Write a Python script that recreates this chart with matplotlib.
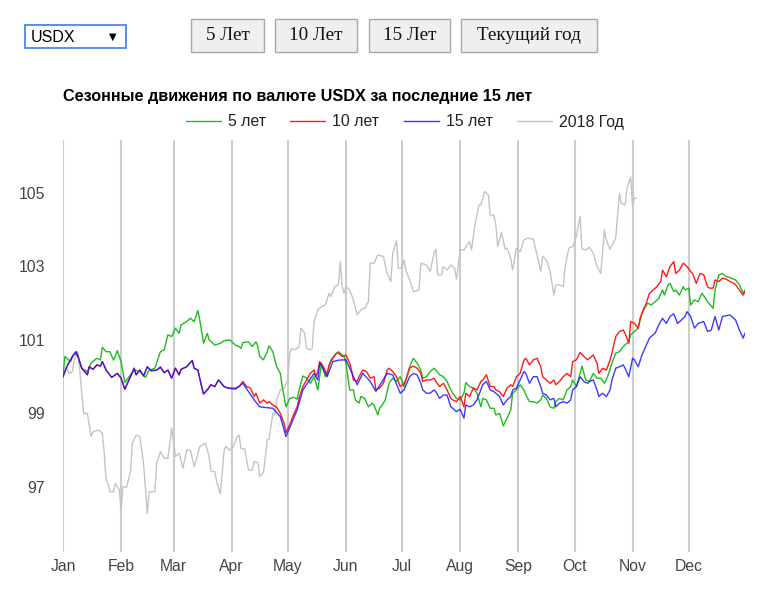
import numpy as np
import matplotlib
matplotlib.use("Agg")
import matplotlib.pyplot as plt
from matplotlib.patches import Rectangle

plt.rcParams['font.family'] = ['Liberation Sans', 'DejaVu Sans']

# month starts (day of year) and labels
month_days = [0, 31, 59, 90, 120, 151, 181, 212, 243, 273, 304, 334]
month_labels = ['Jan', 'Feb', 'Mar', 'Apr', 'May', 'Jun', 'Jul', 'Aug', 'Sep', 'Oct', 'Nov', 'Dec']
y_ticks = [97, 99, 101, 103, 105]

# 5 years average (green)
g_days = [0, 1, 4, 6, 8, 10, 13, 15, 18, 20, 21, 23, 25, 27, 29, 31, 33, 36, 38, 41, 44, 46, 49, 52, 54, 56, 58, 60, 62, 63,
          66, 68, 70, 72, 73, 75, 77, 78, 81, 84, 86, 89, 92, 94, 95, 96, 99, 101, 103, 104, 105, 107, 109, 110, 112, 114,
          116, 117, 119, 121, 123, 125, 126, 128, 130, 132, 134, 136, 138, 140, 142, 143, 145, 147, 150, 151, 153, 155,
          156, 158, 159, 161, 163, 165, 166, 168, 169, 171, 172, 174, 176, 178, 180, 182, 183, 185, 187, 189, 191, 192,
          194, 196, 198, 199, 201, 203, 205, 207, 208, 210, 212, 214, 215, 217, 219, 221, 223, 224, 226, 228, 230, 231,
          233, 235, 237, 239, 240, 242, 244, 246, 247, 249, 251, 253, 255, 256, 258, 260, 262, 263, 265, 267, 269, 271,
          272, 274, 276, 277, 279, 281, 283, 285, 287, 289, 291, 293, 295, 297, 299, 301, 302, 303, 305, 307, 309, 311,
          312, 314, 316, 318, 320, 321, 323, 324, 326, 327, 329, 331, 332, 334, 335, 337, 339, 341, 343, 344, 347, 348,
          350, 352, 354, 356, 359, 361, 363, 364]
g_vals = [100.0, 100.55, 100.41, 100.64, 100.55, 100.23, 100.14, 100.37, 100.5, 100.46, 100.8, 100.68, 100.68, 100.45,
          100.71, 100.41, 99.84, 100.05, 100.18, 100.14, 99.98, 100.18, 100.23, 100.68, 100.73, 101.14, 101.09, 101.32,
          101.18, 101.41, 101.5, 101.59, 101.5, 101.8, 101.54, 100.91, 101.18, 101.0, 100.86, 100.91, 100.98, 101.0,
          100.86, 100.82, 100.77, 100.93, 100.95, 100.82, 100.95, 100.82, 100.55, 100.46, 100.68, 100.84, 100.68, 100.27,
          100.09, 99.73, 99.18, 99.41, 99.44, 99.39, 99.64, 100.02, 99.96, 99.82, 100.0, 99.64, 100.37, 100.0, 100.27,
          100.46, 100.59, 100.68, 100.55, 100.37, 99.64, 99.64, 99.37, 99.28, 99.46, 99.41, 99.18, 99.28, 99.23, 98.96,
          99.14, 99.28, 99.37, 99.82, 99.96, 99.87, 100.0, 99.73, 99.91, 100.27, 100.5, 100.37, 100.18, 99.96, 100.0,
          100.14, 100.23, 100.18, 100.05, 100.0, 99.87, 99.64, 99.55, 99.41, 99.37, 99.55, 99.84, 99.73, 99.69, 99.55,
          99.18, 99.41, 99.37, 99.14, 99.14, 98.96, 99.0, 98.66, 98.87, 99.1, 99.55, 99.64, 99.78, 99.64, 99.5, 99.32,
          99.32, 99.28, 99.37, 99.5, 99.41, 99.18, 99.14, 99.32, 99.41, 99.37, 99.64, 99.73, 99.91, 99.73, 100.09,
          100.29, 99.91, 99.87, 100.09, 99.96, 99.96, 99.82, 100.05, 100.37, 100.64, 100.68, 100.82, 100.91, 100.95,
          101.14, 101.23, 101.32, 101.73, 101.91, 102.0, 101.95, 102.04, 102.13, 102.36, 102.22, 102.5, 102.54, 102.31,
          102.36, 102.22, 102.45, 102.36, 102.41, 101.95, 102.09, 102.04, 102.27, 102.13, 102.04, 101.86, 102.36, 102.77,
          102.81, 102.72, 102.7, 102.63, 102.5, 102.27, 102.36]

# 10 and 15 years run together until early April
common_days = [0, 2, 5, 7, 8, 10, 13, 14, 16, 18, 20, 21, 23, 26, 29, 31, 33, 36, 38, 39, 41, 43, 45, 47, 50, 52, 54, 56,
               58, 60, 62, 63, 66, 69, 70, 72, 74, 75, 77, 79, 81, 83, 86, 88]
common_vals = [100.0, 100.27, 100.55, 100.68, 100.55, 100.23, 100.05, 100.27, 100.2, 100.32, 100.29, 100.41, 100.18,
               99.98, 100.09, 99.96, 99.66, 100.0, 100.23, 100.05, 100.18, 100.02, 100.27, 100.16, 100.18, 100.26, 100.11,
               100.18, 99.96, 100.23, 100.05, 100.2, 100.27, 100.44, 100.23, 100.18, 99.73, 99.53, 99.64, 99.78, 99.73,
               99.91, 99.73, 99.69]

# 10 years average (red), after the common part
r_days = [92, 94, 96, 98, 100, 102, 103, 105, 107, 109, 110, 112, 114, 116, 118, 119, 121, 123, 125, 126, 128, 130, 132,
          134, 135, 136, 137, 139, 141, 142, 144, 146, 147, 149, 151, 153, 154, 155, 157, 158, 160, 162, 164, 166, 167,
          169, 171, 173, 174, 176, 178, 180, 182, 183, 185, 187, 189, 191, 192, 194, 196, 198, 199, 201, 203, 205, 207,
          208, 210, 212, 214, 215, 217, 219, 221, 223, 224, 226, 228, 230, 231, 233, 235, 237, 239, 240, 242, 244, 246,
          247, 249, 251, 253, 255, 256, 258, 260, 262, 263, 265, 267, 269, 271, 272, 274, 276, 278, 280, 281, 283, 285,
          286, 288, 290, 292, 293, 295, 297, 299, 300, 302, 303, 305, 307, 308, 310, 311, 313, 315, 317, 319, 320, 322,
          324, 326, 327, 329, 331, 333, 335, 336, 338, 340, 342, 344, 345, 347, 348, 350, 352, 354, 356, 358, 359, 361,
          363, 364]
r_vals = [99.69, 99.73, 99.87, 99.73, 99.69, 99.46, 99.55, 99.28, 99.37, 99.28, 99.32, 99.23, 99.17, 99.0, 98.73, 98.48,
          98.69, 98.96, 99.18, 99.41, 99.73, 99.91, 100.09, 100.18, 100.0, 100.14, 100.41, 100.27, 100.05, 100.32, 100.5,
          100.64, 100.64, 100.55, 100.59, 100.37, 100.18, 99.91, 99.87, 100.0, 100.18, 100.14, 99.96, 100.0, 99.64, 99.69,
          99.82, 100.18, 100.23, 100.14, 100.0, 99.73, 99.82, 99.91, 100.23, 100.29, 100.23, 100.09, 99.87, 99.91, 99.91,
          99.96, 99.87, 99.73, 99.82, 99.64, 99.41, 99.37, 99.32, 99.46, 99.18, 99.55, 99.46, 99.69, 99.64, 99.87, 99.91,
          100.05, 99.73, 99.73, 99.64, 99.59, 99.46, 99.69, 99.78, 99.73, 100.0, 100.09, 100.45, 100.5, 100.32, 100.46,
          100.5, 100.27, 100.0, 99.91, 99.82, 99.91, 99.78, 99.87, 100.0, 100.09, 100.0, 100.41, 100.46, 100.66, 100.55,
          100.46, 100.5, 100.59, 100.37, 100.09, 100.23, 100.18, 100.46, 100.64, 101.09, 101.23, 101.27, 101.18, 100.91,
          101.5, 101.45, 101.32, 101.59, 101.86, 101.95, 102.27, 102.36, 102.45, 102.59, 102.9, 102.72, 103.0, 103.13,
          102.81, 102.9, 103.09, 103.0, 102.86, 102.81, 102.54, 102.81, 102.77, 102.45, 102.41, 102.41, 102.63, 102.59,
          102.68, 102.65, 102.59, 102.54, 102.5, 102.36, 102.22, 102.31]

# 15 years average (blue), after the common part
b_days = [92, 96, 102, 105, 112, 116, 119, 125, 128, 134, 136, 137, 141, 144, 147, 151, 153, 157, 160, 164, 167, 173, 176,
          180, 182, 185, 187, 189, 191, 192, 194, 196, 198, 199, 201, 203, 205, 207, 208, 210, 212, 214, 215, 217, 219,
          221, 223, 224, 226, 228, 230, 231, 233, 235, 237, 239, 240, 242, 244, 246, 247, 249, 251, 253, 255, 256, 258,
          260, 262, 263, 265, 267, 269, 271, 272, 274, 276, 278, 280, 281, 283, 285, 286, 288, 290, 292, 293, 295, 297,
          299, 300, 302, 304, 305, 307, 309, 311, 313, 315, 316, 318, 320, 322, 324, 326, 328, 330, 332, 333, 335, 337,
          339, 342, 344, 346, 348, 350, 352, 356, 359, 361, 363, 364]
b_vals = [99.66, 99.82, 99.37, 99.18, 99.14, 98.91, 98.37, 99.1, 99.64, 100.09, 99.91, 100.37, 100.0, 100.41, 100.45,
          100.46, 100.23, 99.78, 100.09, 99.87, 99.6, 100.09, 100.05, 99.55, 99.64, 100.0, 100.09, 100.05, 99.82, 99.64,
          99.55, 99.55, 99.64, 99.59, 99.41, 99.5, 99.5, 99.18, 99.14, 99.05, 99.11, 98.87, 99.23, 99.18, 99.23, 99.37,
          99.64, 99.78, 99.87, 99.64, 99.59, 99.55, 99.46, 99.23, 99.37, 99.46, 99.64, 99.69, 99.91, 100.14, 100.09,
          99.82, 100.0, 100.0, 99.73, 99.55, 99.5, 99.37, 99.41, 99.18, 99.28, 99.32, 99.28, 99.37, 99.64, 99.73, 100.0,
          99.87, 99.82, 99.87, 99.91, 99.64, 99.46, 99.55, 99.46, 99.64, 99.91, 100.23, 100.27, 100.32, 100.23, 100.0,
          100.5, 100.46, 100.27, 100.59, 100.82, 101.05, 101.14, 101.18, 101.41, 101.59, 101.45, 101.64, 101.71, 101.45,
          101.54, 101.64, 101.77, 101.64, 101.32, 101.45, 101.5, 101.23, 101.27, 101.64, 101.27, 101.64, 101.68, 101.54,
          101.27, 101.05, 101.18]

# 2018 (gray), trading days up to early November
y18_days = [0, 2, 3, 5, 6, 8, 9, 11, 13, 15, 16, 19, 21, 22, 23, 24, 25, 27, 28, 30, 31, 32, 34, 36, 37, 39, 41, 43, 45,
            46, 49, 50, 52, 54, 56, 58, 60, 62, 64, 66, 68, 70, 73, 76, 78, 79, 81, 82, 84, 86, 87, 89, 91, 93, 94, 95,
            97, 99, 101, 102, 104, 105, 107, 109, 110, 112, 113, 114, 116, 118, 120, 121, 122, 124, 126, 127, 129, 130,
            132, 133, 134, 136, 138, 140, 142, 143, 145, 147, 148, 149, 150, 151, 153, 155, 157, 159, 161, 163, 164, 166,
            168, 171, 173, 175, 176, 178, 179, 181, 182, 183, 185, 187, 190, 191, 194, 196, 198, 199, 200, 202, 203, 205,
            207, 209, 210, 212, 214, 217, 218, 220, 222, 223, 225, 227, 228, 230, 231, 232, 234, 236, 237, 239, 240, 242,
            244, 246, 248, 251, 253, 255, 256, 258, 260, 262, 263, 265, 267, 268, 270, 272, 274, 276, 277, 279, 281, 283,
            285, 287, 289, 290, 292, 295, 297, 298, 300, 301, 303, 304, 305, 306]
y18_vals = [100.0, 100.27, 100.09, 100.14, 100.46, 100.68, 100.14, 99.0, 99.0, 98.37, 98.5, 98.55, 98.46, 97.92, 97.19,
            97.1, 96.87, 96.87, 97.1, 96.92, 96.37, 97.0, 97.0, 97.42, 98.19, 98.41, 98.37, 97.64, 96.28, 96.87, 96.87,
            97.64, 97.96, 97.78, 97.78, 98.6, 97.83, 97.92, 97.51, 98.0, 98.0, 97.55, 98.1, 98.19, 97.83, 97.42, 97.42,
            97.14, 96.81, 98.0, 98.1, 98.0, 98.1, 98.37, 98.41, 98.05, 98.03, 97.46, 97.46, 97.69, 97.66, 97.28, 97.39,
            98.28, 98.3, 99.0, 98.96, 99.37, 99.64, 99.69, 99.91, 100.64, 100.77, 100.73, 100.82, 101.32, 101.18, 100.77,
            100.73, 100.77, 101.5, 101.82, 101.91, 101.95, 102.27, 102.18, 102.45, 102.5, 103.13, 102.45, 102.27, 102.45,
            102.36, 102.09, 101.68, 101.82, 101.86, 102.04, 103.09, 103.09, 103.31, 103.27, 102.81, 102.59, 103.36,
            103.7, 102.95, 102.95, 103.18, 102.9, 102.63, 102.31, 102.36, 103.09, 103.04, 102.86, 103.36, 103.47, 102.77,
            102.77, 103.0, 102.9, 103.04, 102.95, 102.65, 103.45, 103.45, 103.68, 103.45, 104.18, 104.67, 104.67, 105.04,
            104.95, 104.4, 104.4, 104.13, 103.54, 103.92, 103.47, 103.5, 103.22, 102.9, 103.5, 103.4, 103.72, 103.77,
            103.74, 103.31, 102.86, 103.27, 103.18, 102.86, 102.22, 102.5, 102.5, 102.45, 103.0, 103.5, 103.54, 103.81,
            104.36, 103.47, 103.45, 103.52, 103.36, 103.0, 102.81, 103.99, 103.72, 103.47, 103.77, 104.99, 104.72,
            104.67, 105.13, 105.43, 104.63, 104.86, 104.86]

series_names = ['5 лет', '10 лет', '15 лет', '2018 Год']
series_colors = ['#20bb20', '#ff1a1a', '#1a1aff', '#c4c4c4']

W, H = 759, 597
fig = plt.figure(figsize=(W / 100, H / 100), dpi=100)

# top controls drawn on a full-figure overlay in pixel units
ui = fig.add_axes([0, 0, 1, 1])
ui.set_xlim(0, W)
ui.set_ylim(H, 0)
ui.axis('off')

ui.add_patch(Rectangle((25, 25), 101, 23, facecolor='white', edgecolor='#4a86e8', lw=1.3))
ui.text(31, 37, 'USDX', fontsize=11.5, color='#000000', va='center', ha='left')
ui.text(113, 37, '▼', fontsize=7, color='#000000', va='center', ha='center', family=['DejaVu Sans'])

buttons = [('5 Лет', 191, 264), ('10 Лет', 275, 357), ('15 Лет', 369, 450), ('Текущий год', 461, 597)]
for label, x0, x1 in buttons:
    ui.add_patch(Rectangle((x0, 19), x1 - x0, 33, facecolor='#efefef', edgecolor='#a9a9a9', lw=1.0))
    ui.text((x0 + x1) / 2, 36, label, fontsize=13.8, color='#111111', va='center', ha='center',
            family=['Liberation Serif', 'DejaVu Serif'])

ui.text(63, 96, 'Сезонные движения по валюте USDX за последние 15 лет', fontsize=11.7, fontweight='bold',
        color='#000000', va='center', ha='left')

# main chart
ax = fig.add_axes([63 / W, 1 - 552 / H, 682 / W, 412 / H])
ax.set_xlim(0, 364)
ax.set_ylim(95.23, 106.44)

for d in month_days:
    ax.axvline(d, color='#cccccc', lw=1.5, zorder=0)

ax.plot(g_days, g_vals, color=series_colors[0], lw=1.0, label=series_names[0], zorder=3)
ax.plot(common_days + r_days, common_vals + r_vals, color=series_colors[1], lw=1.0, label=series_names[1], zorder=4)
ax.plot(common_days + b_days, common_vals + b_vals, color=series_colors[2], lw=1.0, alpha=0.85,
        label=series_names[2], zorder=5)
ax.plot(y18_days, y18_vals, color=series_colors[3], lw=1.0, label=series_names[3], zorder=2)

ax.set_xticks(month_days)
ax.set_xticklabels(month_labels)
ax.set_yticks(y_ticks)
ax.set_yticklabels([str(v) for v in y_ticks])
ax.tick_params(axis='both', length=0, labelsize=11.3, labelcolor='#444444')
ax.tick_params(axis='x', pad=5)
ax.tick_params(axis='y', pad=13)
for s in ax.spines.values():
    s.set_visible(False)
ax.set_facecolor('none')

handles, labels = ax.get_legend_handles_labels()
fig.legend(handles, labels, loc='center', bbox_to_anchor=(405 / W, 1 - 122 / H), ncol=4, frameon=False,
           fontsize=11.4, handlelength=2.2, handletextpad=0.45, columnspacing=1.55, labelcolor='#222222')

fig.savefig('out.png', dpi=100)
